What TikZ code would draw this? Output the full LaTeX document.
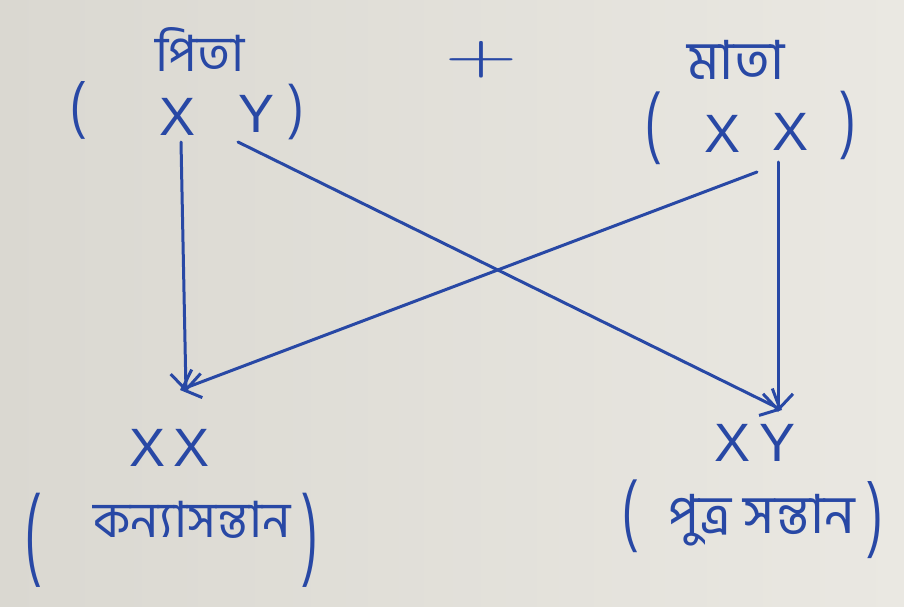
\documentclass[tikz,border=0pt]{standalone}
\usepackage{fontspec}
\setmainfont{Liberation Sans}
\newfontfamily\bnfont[Script=Bengali]{Hind Siliguri}
\usetikzlibrary{arrows.meta}
\definecolor{ink}{RGB}{40,72,165}
\definecolor{paperL}{RGB}{218,216,209}
\definecolor{paperR}{RGB}{234,232,226}
\newcommand{\tallparen}[2]{\scalebox{1}[#1]{#2}}
\tikzset{
  lbl/.style={text=ink, inner sep=0pt, font=\bnfont\fontsize{#1}{#1}\selectfont},
  gene/.style={text=ink, inner sep=0pt, font=\fontsize{54}{54}\selectfont},
  paren/.style={text=ink, inner sep=0pt, font=\fontsize{46}{46}\selectfont},
  link/.style={draw=ink, line width=3pt, line cap=round,
    -{Straight Barb[length=16pt,width=30pt]}},
}
\begin{document}
\begin{tikzpicture}[x=1pt,y=-1pt]
  \useasboundingbox (0,0) rectangle (904,607);
  \shade[left color=paperL, right color=paperR] (0,0) rectangle (904,607);

  % father
  \node[lbl=50] (father) at (200,50) {পিতা};
  \node[paren] (flp) at (78,110) {\tallparen{1.35}{(}};
  \node[gene] (fX) at (178,117) {X};
  \node[gene] (fY) at (257,114) {Y};
  \node[paren] (frp) at (296,112) {\tallparen{1.3}{)}};

  % plus
  \node[text=ink, inner sep=0pt] (plus) at (481,60) {\scalebox{9.5}[5.5]{$+$}};

  % mother
  \node[lbl=54] (mother) at (736,60) {মাতা};
  \node[paren] (mlp) at (653,128) {\tallparen{1.7}{(}};
  \node[gene] (mX1) at (722,134) {X};
  \node[gene] (mX2) at (790,132) {X};
  \node[paren] (mrp) at (848,125) {\tallparen{1.6}{)}};

  % daughter
  \node[gene] (dG) at (170,448) {X\hspace{8pt}X};
  \node[paren] (dlp) at (33,540) {\tallparen{2.2}{(}};
  \node[lbl=50] (dlab) at (192,520) {কন্যাসন্তান};
  \node[paren] (drp) at (310,540) {\tallparen{2.2}{)}};

  % son
  \node[gene] (sG) at (755,443) {X\hspace{8pt}Y};
  \node[paren] (slp) at (630,516) {\tallparen{1.7}{(}};
  \node[lbl=54] (slab) at (762,520) {পুত্র সন্তান};
  \node[paren] (srp) at (875,520) {\tallparen{1.8}{)}};

  % connectors
  \coordinate (a1s) at (181,142);
  \coordinate (a1e) at (186,392);
  \coordinate (a2s) at (238,142);
  \coordinate (a2e) at (782,410);
  \coordinate (a3s) at (757,172);
  \coordinate (a3e) at (180,390);
  \coordinate (a4s) at (778,162);
  \coordinate (a4e) at (778,412);
  \draw[link] (a1s) -- (a1e);
  \draw[link] (a2s) -- (a2e);
  \draw[link] (a3s) -- (a3e);
  \draw[link] (a4s) -- (a4e);
\end{tikzpicture}
\end{document}
